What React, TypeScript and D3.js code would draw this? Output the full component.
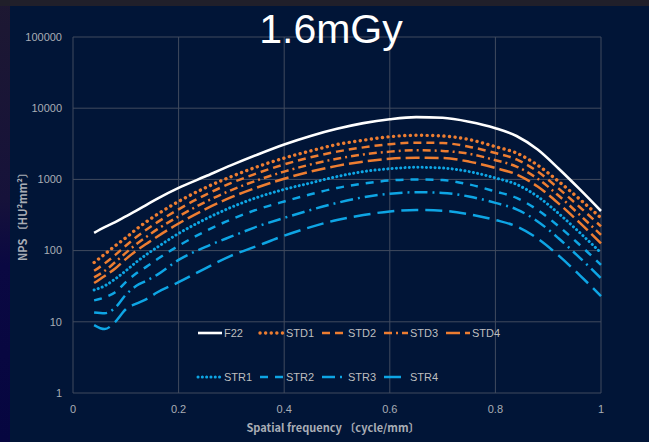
import React from "react";
import * as d3 from "d3";

const freq = [0.04, 0.06, 0.08, 0.1, 0.12, 0.14, 0.16, 0.2, 0.25, 0.3, 0.35, 0.4, 0.45, 0.5, 0.55, 0.6, 0.65, 0.7, 0.75, 0.8, 0.84, 0.88, 0.92, 0.96, 1.0];

const F22 = [178, 214, 251, 302, 363, 442, 537, 759, 1096, 1585, 2239, 3090, 4074, 5129, 6166, 7000, 7500, 7330, 6457, 5248, 4074, 2630, 1413, 724, 360];
const STD1 = [68, 89, 117, 151, 200, 257, 324, 490, 759, 1096, 1514, 1995, 2512, 3090, 3548, 3981, 4169, 4074, 3631, 2884, 2344, 1585, 933, 525, 288];
const STD2 = [52, 66, 87, 117, 155, 200, 251, 380, 603, 891, 1230, 1622, 2042, 2455, 2818, 3126, 3280, 3236, 2884, 2344, 1905, 1288, 741, 407, 219];
const STD3 = [42, 52, 69, 93, 123, 158, 200, 302, 479, 708, 977, 1288, 1622, 1950, 2239, 2455, 2570, 2512, 2291, 1862, 1514, 1023, 589, 316, 166];
const STD4 = [35, 44, 56, 76, 100, 126, 158, 240, 380, 562, 776, 1023, 1288, 1549, 1778, 1950, 2018, 1995, 1778, 1445, 1175, 794, 457, 245, 126];
const STR1 = [28, 32, 40, 52, 69, 89, 112, 174, 275, 407, 562, 724, 891, 1096, 1288, 1413, 1479, 1445, 1288, 1047, 851, 575, 331, 178, 93];
const STR2 = [20, 22, 26, 36, 48, 60, 76, 117, 186, 275, 380, 490, 617, 759, 871, 966, 1000, 977, 851, 676, 550, 372, 219, 120, 63];
const STR3 = [13.5, 13.2, 15.8, 24, 32, 38, 46, 74, 112, 158, 219, 288, 372, 468, 562, 631, 661, 646, 575, 468, 380, 257, 148, 79, 41];
const STR4 = [9.0, 7.9, 10, 15, 18, 21, 26, 36, 56, 85, 117, 162, 214, 269, 316, 355, 372, 363, 324, 269, 219, 148, 85, 45, 23];

const yTicks = [1, 10, 100, 1000, 10000, 100000];
const xTicks = [0, 0.2, 0.4, 0.6, 0.8, 1];

const title = "1.6mGy";
const xTitle = "Spatial frequency 〔cycle/mm〕";
const yTitle = "NPS 〔HU²mm²〕";

const ORANGE = "#ED7D31";
const BLUE = "#0EA5E4";

const series = [
  { name: "F22", values: F22, color: "#FFFFFF", dash: "", width: 2.6, cap: "butt" },
  { name: "STD1", values: STD1, color: ORANGE, dash: "0.1 5.5", width: 3.4, cap: "round" },
  { name: "STD2", values: STD2, color: ORANGE, dash: "8 5", width: 2.5, cap: "butt" },
  { name: "STD3", values: STD3, color: ORANGE, dash: "8 4 2 4", width: 2.5, cap: "butt" },
  { name: "STD4", values: STD4, color: ORANGE, dash: "14 5", width: 2.5, cap: "butt" },
  { name: "STR1", values: STR1, color: BLUE, dash: "0.1 4.2", width: 3.0, cap: "round" },
  { name: "STR2", values: STR2, color: BLUE, dash: "8 7", width: 2.5, cap: "butt" },
  { name: "STR3", values: STR3, color: BLUE, dash: "13 5 2 5", width: 2.5, cap: "butt" },
  { name: "STR4", values: STR4, color: BLUE, dash: "17 7", width: 2.5, cap: "butt" },
];

const legendRows = [
  ["F22", "STD1", "STD2", "STD3", "STD4"],
  ["STR1", "STR2", "STR3", "STR4"],
];

export default function App() {
  const W = 649;
  const H = 442;
  const x = d3.scaleLinear().domain([0, 1]).range([73, 601]);
  const y = d3.scaleLog().domain([1, 100000]).range([393, 37]);
  const line = d3
    .line<number>()
    .x((_, i) => x(freq[i]))
    .y((d) => y(d))
    .curve(d3.curveMonotoneX);

  const gridColor = "#414b5e";
  const labelColor = "#A9ADB5";
  const font = "'Liberation Sans', Arial, sans-serif";
  const cjk = "'Noto Sans CJK JP', 'Noto Sans', sans-serif";

  const legendX0 = 198;
  const legendStep = 62;
  const legendY = [333, 377];

  return (
    <svg
      width={W}
      height={H}
      style={{ position: "fixed", left: 0, top: 0, display: "block" }}
    >
      <defs>
        <linearGradient id="leftbg" x1="0" y1="0" x2="0" y2="1">
          <stop offset="0" stopColor="#1d1832" />
          <stop offset="0.45" stopColor="#16123a" />
          <stop offset="0.6" stopColor="#0a0842" />
          <stop offset="1" stopColor="#060640" />
        </linearGradient>
      </defs>
      <rect x={0} y={0} width={W} height={H} fill="url(#leftbg)" />
      <rect x={0} y={0} width={W} height={6} fill="#201f2a" />
      <rect x={10} y={6} width={W - 10} height={H - 6} fill="#011537" />

      {/* grid */}
      {yTicks.map((t) => (
        <line key={"gy" + t} x1={x(0)} x2={x(1)} y1={y(t)} y2={y(t)} stroke={gridColor} strokeWidth={1} />
      ))}
      {xTicks.map((t) => (
        <line key={"gx" + t} x1={x(t)} x2={x(t)} y1={y(1)} y2={y(100000)} stroke={gridColor} strokeWidth={1} />
      ))}

      {/* tick labels */}
      {yTicks.map((t) => (
        <text key={"ly" + t} x={62} y={y(t)} dy="0.35em" textAnchor="end" fill={labelColor} fontSize={11} fontFamily={font}>
          {String(t)}
        </text>
      ))}
      {xTicks.map((t) => (
        <text key={"lx" + t} x={x(t)} y={409} dy="0.35em" textAnchor="middle" fill={labelColor} fontSize={11} fontFamily={font}>
          {String(t)}
        </text>
      ))}

      {/* axis titles */}
      <text x={333} y={432} textAnchor="middle" fill={labelColor} fontSize={11} fontWeight="bold" fontFamily={cjk}>
        {xTitle}
      </text>
      <text
        transform={`translate(27,${214}) rotate(-90)`}
        textAnchor="middle"
        fill={labelColor}
        fontSize={11}
        fontWeight="bold"
        fontFamily={cjk}
      >
        {yTitle}
      </text>

      {/* series */}
      {series.map((s) => (
        <path
          key={s.name}
          d={line(s.values) || ""}
          fill="none"
          stroke={s.color}
          strokeWidth={s.width}
          strokeDasharray={s.dash || undefined}
          strokeLinecap={s.cap as any}
        />
      ))}

      {/* legend */}
      {legendRows.map((row, ri) =>
        row.map((name, ci) => {
          const s = series.find((d) => d.name === name)!;
          const lx = legendX0 + ci * legendStep;
          const ly = legendY[ri];
          return (
            <g key={"lg" + name}>
              <line
                x1={lx}
                x2={lx + 24}
                y1={ly}
                y2={ly}
                stroke={s.color}
                strokeWidth={s.width}
                strokeDasharray={s.dash || undefined}
                strokeLinecap={s.cap as any}
              />
              <text x={lx + 26} y={ly} dy="0.35em" fill="#BFBFBF" fontSize={11} fontFamily={font}>
                {name}
              </text>
            </g>
          );
        })
      )}

      {/* title */}
      <text x={331} y={43} textAnchor="middle" fill="#FFFFFF" fontSize={41} fontFamily={font}>
        {title}
      </text>
    </svg>
  );
}
